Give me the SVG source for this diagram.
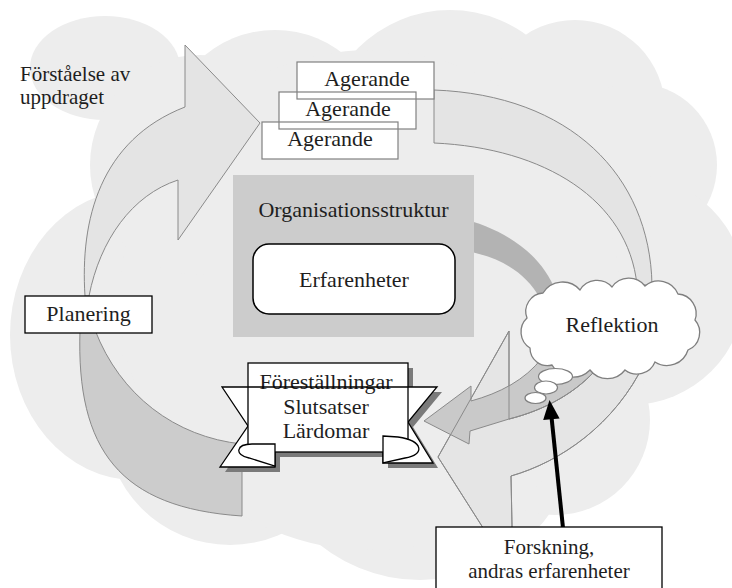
<svg xmlns="http://www.w3.org/2000/svg" width="732" height="588" viewBox="0 0 732 588">
  <style>
    .txt { font-family: "Liberation Serif", "Times New Roman", serif; font-size: 22px; fill: #1e1e1e; text-anchor: middle; }
    .two { font-size: 21px; }
    .bx { fill: #ffffff; stroke: #000000; stroke-width: 1.3; }
    .gbx { fill: #ffffff; stroke: none; }
    .gstroke { fill: none; stroke: #808080; stroke-width: 1.2; }
    .flow { stroke: #8a8a8a; stroke-width: 1; }
    .shadow { fill: #7a7a7a; }
    .bubble { fill: #ffffff; stroke: #7f7f7f; stroke-width: 1.2; }
  </style>

  <!-- background cloud, built as a union of lobes -->
  <g id="background" fill="#ededed">
    <ellipse cx="105" cy="68" rx="75" ry="52"/>
    <circle cx="275" cy="140" r="110"/>
    <circle cx="450" cy="140" r="130"/>
    <circle cx="575" cy="110" r="90"/>
    <circle cx="635" cy="165" r="82"/>
    <circle cx="630" cy="290" r="115"/>
    <ellipse cx="135" cy="335" rx="125" ry="145"/>
    <circle cx="230" cy="420" r="125"/>
    <circle cx="420" cy="420" r="160"/>
    <circle cx="555" cy="420" r="95"/>
    <circle cx="370" cy="300" r="250"/>
    <circle cx="200" cy="165" r="110"/>
  </g>

  <!-- cycle arrows and bands -->
  <g id="connectors">
    <!-- band from the banner back to Planering -->
    <path class="flow" fill="#cccccc" d="M 80,330 C 76,450 120,508 242,516 L 242,444 C 175,437 120,395 95,330 Z"/>
    <!-- Planering to Agerande -->
    <path class="flow" fill="#e4e4e4" d="M 85,296 C 80,220 100,140 185,107 L 185,45 L 260,123 L 178,240 L 178,180 C 132,195 100,240 89,296 Z"/>
    <!-- Agerande to Reflektion -->
    <path class="flow" fill="#e4e4e4" d="M 434,90 C 570,95 650,175 652,285 L 637,285 C 628,200 545,148 434,143 Z"/>
    <!-- Organisationsstruktur to Reflektion -->
    <path fill="#b3b3b3" d="M 460,218 C 500,228 540,250 556,292 L 540,298 C 525,272 500,256 460,250 Z"/>
    <!-- wide light arrow below Reflektion -->
    <path class="flow" fill="#e5e5e5" d="M 600,365 C 578,392 545,410 509,419 L 509,331 L 438,457 L 513,575 L 511,476 C 560,462 615,425 645,362 Z"/>
    <!-- Reflektion to the banner -->
    <path class="flow" fill="#c9c9c9" d="M 424,421 L 471,386 L 471,401 C 500,393 525,380 542,358 L 600,360 L 600,365 C 578,392 545,410 509,419 L 470,431 L 469,444 Z"/>
    <!-- outline of the light arrow kept on top -->
    <path class="flow" fill="none" d="M 600,365 C 578,392 545,410 509,419 L 509,331 L 438,457 L 513,575 L 511,476 C 560,462 615,425 645,362"/>
  </g>

  <g id="organisation">
    <rect x="233" y="175" width="241" height="162" fill="#cccccc"/>
    <text class="txt" x="353.5" y="217">Organisationsstruktur</text>
  </g>

  <g id="erfarenheter">
    <rect x="253" y="244" width="202" height="70" rx="16" ry="16" fill="#ffffff" stroke="#000000" stroke-width="1.5"/>
    <text class="txt" x="354" y="287">Erfarenheter</text>
  </g>

  <g id="agerande">
    <rect class="gbx" x="297" y="62" width="137" height="37"/>
    <rect class="gbx" x="279" y="92" width="137" height="37"/>
    <rect class="gbx" x="262" y="122" width="136" height="37"/>
    <rect class="gstroke" x="297" y="62" width="137" height="37"/>
    <rect class="gstroke" x="279" y="92" width="137" height="37"/>
    <rect class="gstroke" x="262" y="122" width="136" height="37"/>
    <text class="txt" x="367" y="86">Agerande</text>
    <text class="txt" x="348" y="116">Agerande</text>
    <text class="txt" x="330" y="146">Agerande</text>
  </g>

  <g id="forstaelse">
    <text class="txt two" x="20" y="81" style="text-anchor:start">Förståelse av</text>
    <text class="txt two" x="20" y="104" style="text-anchor:start">uppdraget</text>
  </g>

  <g id="planering">
    <rect class="bx" x="25" y="296" width="127" height="37"/>
    <text class="txt" x="88.5" y="321">Planering</text>
  </g>

  <g id="banner">
    <g class="shadow">
      <rect x="253" y="368" width="160" height="89"/>
      <path d="M 227,392 H 280 V 472 H 225 L 253,431 Z"/>
      <path d="M 442,392 H 388 V 468 H 438 L 413,427 Z"/>
    </g>
    <path class="bx" d="M 222,387 H 275 V 467 H 220 L 248,426 Z"/>
    <path class="bx" d="M 437,387 H 383 V 463 H 433 L 408,422 Z"/>
    <rect class="bx" x="248" y="363" width="160" height="89"/>
    <path class="bx" d="M 275,444 L 252,444 C 236,444 234,455 249,458 L 275,466 Z"/>
    <path class="bx" d="M 383,436 L 398,437 C 424,441 425,455 405,458 L 383,463 Z"/>
    <text class="txt" x="326" y="389">Föreställningar</text>
    <text class="txt" x="326" y="414">Slutsatser</text>
    <text class="txt" x="326" y="438">Lärdomar</text>
    <line x1="248" y1="387" x2="408" y2="387" stroke="#000000" stroke-width="1.3"/>
  </g>

  <g id="reflektion">
    <path fill="#ffffff" stroke="#7f7f7f" stroke-width="1.3" d="M 527,318 A 18.5 18.5 0 0 1 543,293 A 23 23 0 0 1 580,290 A 20 20 0 0 1 612,287 A 20.5 20.5 0 0 1 645,286 A 21 21 0 0 1 678,294 A 19.5 19.5 0 0 1 695,320 A 19 19 0 0 1 688,350 A 22 22 0 0 1 655,362 A 19.5 19.5 0 0 1 625,370 A 22 22 0 0 1 590,370 A 24 24 0 0 1 552,365 A 17.5 17.5 0 0 1 530,348 A 19 19 0 0 1 527,318 Z"/>
    <text class="txt" x="612" y="332">Reflektion</text>
    <ellipse class="bubble" cx="555.5" cy="376.5" rx="17" ry="8"/>
    <ellipse class="bubble" cx="546" cy="387.5" rx="11.5" ry="6.5"/>
    <ellipse class="bubble" cx="535.5" cy="398" rx="10.5" ry="5.5"/>
  </g>

  <g id="research-link">
    <line x1="563" y1="528" x2="551.4" y2="416" stroke="#000000" stroke-width="4"/>
    <polygon points="549.5,400 559.6,418.5 543.2,420" fill="#000000"/>
  </g>

  <g id="forskning">
    <rect class="bx" x="436" y="527" width="226" height="70"/>
    <text class="txt two" x="549" y="554">Forskning,</text>
    <text class="txt two" x="549" y="578">andras erfarenheter</text>
  </g>
</svg>
